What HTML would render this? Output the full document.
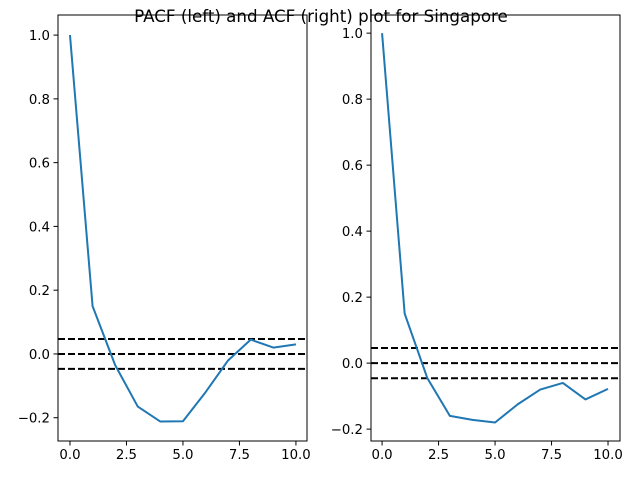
<!DOCTYPE html>
<html><head><meta charset="utf-8"><style>
body{margin:0;background:#fff;}
svg text{font-family:"DejaVu Sans","Liberation Sans",sans-serif;font-size:13.3px;fill:#000;}
</style></head><body>
<svg id="chart" width="640" height="480" xmlns="http://www.w3.org/2000/svg">
<text x="321" y="22" text-anchor="middle" style="font-size:16.7px">PACF (left) and ACF (right) plot for Singapore</text>
</svg>
<script>
const lags = [0,1,2,3,4,5,6,7,8,9,10];
const pacfValues = [1.0,0.15,-0.035,-0.165,-0.212,-0.211,-0.12,-0.02,0.045,0.02,0.03];
const acfValues = [1.0,0.15,-0.045,-0.16,-0.172,-0.18,-0.125,-0.08,-0.06,-0.11,-0.078];
const pacfBound = 0.047;
const acfBound = 0.046;
const xTicks = [0,2.5,5,7.5,10];
const xTickLabels = ["0.0","2.5","5.0","7.5","10.0"];
const yTicks = [-0.2,0,0.2,0.4,0.6,0.8,1.0];
const yTickLabels = ["−0.2","0.0","0.2","0.4","0.6","0.8","1.0"];

const svg = document.getElementById('chart');
const NS = 'http://www.w3.org/2000/svg';
function mk(tag, attrs){const e=document.createElementNS(NS,tag);for(const k in attrs)e.setAttribute(k,attrs[k]);svg.appendChild(e);return e;}

function panel(prefix, left, right, top, bottom, xmin, xmax, ymin, ymax, vals, bound){
  const sx = v => left + (v - xmin) / (xmax - xmin) * (right - left);
  const sy = v => bottom - (v - ymin) / (ymax - ymin) * (bottom - top);
  [bound, 0, -bound].forEach((b,i)=>{
    const l = mk('line',{x1:left,x2:right,y1:sy(b),y2:sy(b),stroke:'#000','stroke-width':2,'stroke-dasharray':'7,3'});
    
    
  });
  const pts = lags.map((x,i)=>sx(x)+','+sy(vals[i])).join(' ');
  const pl = mk('polyline',{points:pts,fill:'none',stroke:'#1f77b4','stroke-width':2,'stroke-linejoin':'round'});
  
  
  const fr = mk('rect',{x:left,y:top,width:right-left,height:bottom-top,fill:'none',stroke:'#000','stroke-width':1});
  
  
  xTicks.forEach((t,i)=>{
    mk('line',{x1:sx(t),x2:sx(t),y1:bottom,y2:bottom+4.5,stroke:'#000','stroke-width':1});
    const tx = mk('text',{x:sx(t),y:bottom+18,'text-anchor':'middle'});
    tx.textContent = xTickLabels[i];
    
    
  });
  yTicks.forEach((t,i)=>{
    mk('line',{x1:left-4.5,x2:left,y1:sy(t),y2:sy(t),stroke:'#000','stroke-width':1});
    const tx = mk('text',{x:left-8,y:sy(t)+5,'text-anchor':'end'});
    tx.textContent = yTickLabels[i];
    
    
  });
}
panel('pacf', 58, 307, 15, 441, -0.53, 10.49, -0.273, 1.063, pacfValues, pacfBound);
panel('acf', 371, 620, 15, 441, -0.49, 10.53, -0.236, 1.055, acfValues, acfBound);
</script>
</body></html>
